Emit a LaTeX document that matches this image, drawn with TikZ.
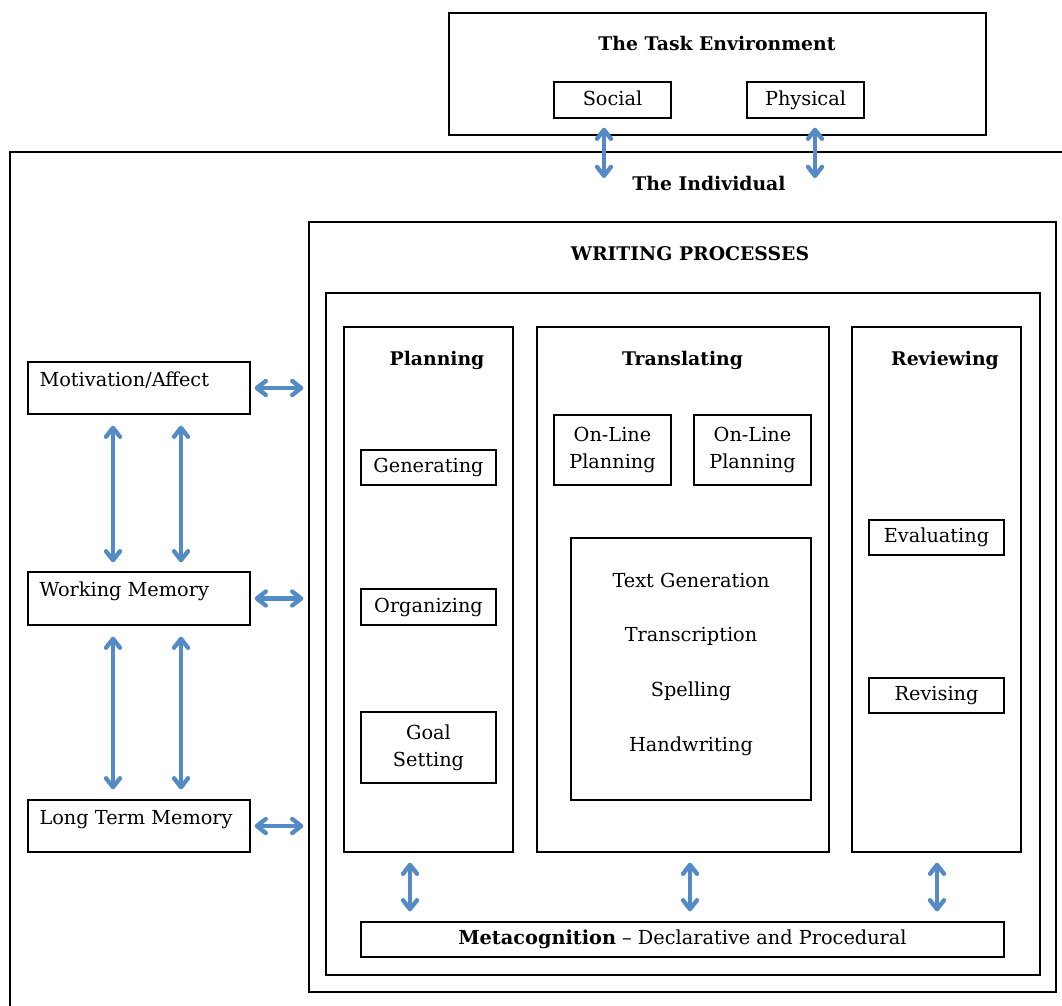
\documentclass[tikz,border=0pt]{standalone}
\usepackage{fontspec}
\setmainfont{DejaVu Serif}
\usetikzlibrary{arrows.meta,positioning}
\definecolor{linkblue}{RGB}{84,138,197}
\tikzset{
  box/.style={draw, line width=1.3pt, inner sep=0pt, align=center},
  onebox/.style={box, text height=14pt, text depth=4pt},
  title/.style={font=\bfseries\fontsize{18.8}{23}\selectfont, inner sep=0pt},
  word/.style={inner sep=0pt},
  link/.style={draw=linkblue, line width=4.3pt,
    {Straight Barb[length=9pt,width=14pt,round]}-{Straight Barb[length=9pt,width=14pt,round]}},
}
\begin{document}
\begin{tikzpicture}[x=1pt, y=-1pt, every node/.style={font=\fontsize{19.3}{27}\selectfont}]
\useasboundingbox (0,0) rectangle (1062,1005);
\clip (0,0) rectangle (1062,1005);
% Task environment
\node[box, minimum width=537pt, minimum height=122pt] (taskenv) at (717.5,74) {};
\node[title] (tasktitle) at (717,43) {The Task Environment};
\node[onebox, minimum width=117pt, minimum height=36pt] (social) at (612.5,100) {Social};
\node[onebox, minimum width=117pt, minimum height=36pt] (physical) at (805.5,100) {Physical};
% The individual (runs off the page to the right and bottom)
\draw[line width=1.3pt] (10,152) rectangle (1090,1030);
\node[title] (indtitle) at (709,183) {The Individual};
\coordinate (socialend) at (604,178);
\coordinate (physicalend) at (815,178);
\draw[link, shorten <=9pt] (social.south -| socialend) -- (socialend);
\draw[link, shorten <=9pt] (physical.south -| physicalend) -- (physicalend);
% Writing processes
\node[box, minimum width=747pt, minimum height=770pt] (wp) at (682.5,607) {};
\node[title, anchor=base] (wptitle) at (690,260) {WRITING PROCESSES};
\draw[line width=1.3pt] (326,293) rectangle (1040,975);
% Planning
\node[box, minimum width=169pt, minimum height=525pt] (plan) at (428.5,589.5) {};
\node[title, anchor=base] (plantitle) at (437,365) {Planning};
\node[onebox, minimum width=135pt, minimum height=35pt] (gen) at (428.5,467.5) {Generating};
\node[onebox, minimum width=135pt, minimum height=36pt] (org) at (428.5,607) {Organizing};
\node[box, minimum width=135pt, minimum height=71pt] (goal) at (428.5,747.5) {Goal\\Setting};
% Translating
\node[box, minimum width=292pt, minimum height=525pt] (trans) at (683,589.5) {};
\node[title, anchor=base] (transtitle) at (682.5,365) {Translating};
\node[box, minimum width=117pt, minimum height=70pt] (online1) at (612.5,450) {On-Line\\Planning};
\node[box, minimum width=117pt, minimum height=70pt] (online2) at (752.5,450) {On-Line\\Planning};
\node[box, minimum width=240pt, minimum height=262pt] (textgen) at (691,669) {};
\node[word, anchor=base] (tg1) at (691,587) {Text Generation};
\node[word, anchor=base] (tg2) at (691,641) {Transcription};
\node[word, anchor=base] (tg3) at (691,696) {Spelling};
\node[word, anchor=base] (tg4) at (691,751) {Handwriting};
% Reviewing
\node[box, minimum width=169pt, minimum height=525pt] (rev) at (936.5,589.5) {};
\node[title, anchor=base] (revtitle) at (945,365) {Reviewing};
\node[onebox, minimum width=135pt, minimum height=35pt] (eval) at (936.5,537.5) {Evaluating};
\node[onebox, minimum width=135pt, minimum height=35pt] (revis) at (936.5,695.5) {Revising};
% Metacognition
\node[onebox, minimum width=643pt, minimum height=35pt] (meta) at (682.5,939.5)
  {\textbf{Metacognition} -- Declarative and Procedural};
\draw[link, shorten <=10pt, shorten >=10pt] (plan.south -| 410,0) -- (meta.north -| 410,0);
\draw[link, shorten <=10pt, shorten >=10pt] (trans.south -| 690,0) -- (meta.north -| 690,0);
\draw[link, shorten <=10pt, shorten >=10pt] (rev.south -| 937,0) -- (meta.north -| 937,0);
% Left column
\node[box, minimum width=222pt, minimum height=52pt] (mot) at (139,388) {};
\node[word, anchor=base west] (mottext) at ([xshift=12pt, yshift=-25pt]mot.north west) {Motivation/Affect};
\node[box, minimum width=222pt, minimum height=53pt] (wm) at (139,598.5) {};
\node[word, anchor=base west] (wmtext) at ([xshift=12pt, yshift=-25pt]wm.north west) {Working Memory};
\node[box, minimum width=222pt, minimum height=52pt] (ltm) at (139,826) {};
\node[word, anchor=base west] (ltmtext) at ([xshift=12pt, yshift=-25pt]ltm.north west) {Long Term Memory};
\foreach \lx in {113,181} {
  \draw[link, shorten <=11pt, shorten >=9pt] (mot.south -| \lx,0) -- (wm.north -| \lx,0);
  \draw[link, shorten <=11pt, shorten >=10pt] (wm.south -| \lx,0) -- (ltm.north -| \lx,0);
}
\foreach \bx in {mot,wm,ltm}
  \draw[link, shorten <=4pt, shorten >=5pt] (\bx.east) -- (\bx.east -| wp.west);
\end{tikzpicture}
\end{document}
